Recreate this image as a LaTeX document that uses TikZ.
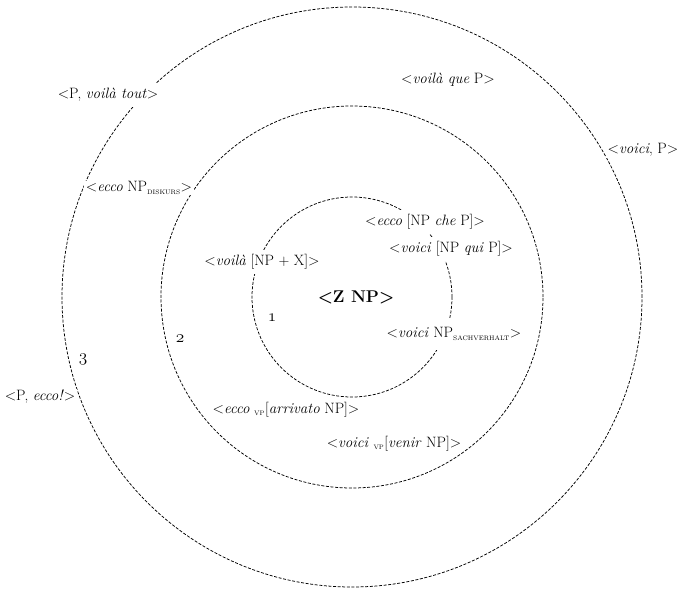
\documentclass[tikz,border=0pt]{standalone}
\usepackage{tikz}

\newcommand{\subsc}[1]{\textsubscript{\fontsize{6.5}{7}\selectfont #1}}

\begin{document}
\begin{tikzpicture}[x=1pt,y=-1pt,
    ring/.style={dash pattern=on 3pt off 1.6pt, line width=0.75pt},
    lab/.style={fill=white, inner xsep=1.5pt, inner ysep=5pt, font=\fontsize{15}{17}\selectfont},
    num/.style={inner sep=1pt, font=\fontsize{17}{18}\selectfont}]
  \useasboundingbox (0,0) rectangle (677,589);
  \coordinate (c) at (352,297);
  \draw [ring] (c) circle [radius=100pt];
  \draw [ring] (c) circle [radius=191pt];
  \draw [ring] (c) circle [radius=290pt];

  % ring 3
  \node [lab] (ptout) at (108,95) {<P, \textit{voilà tout}>};
  \node [lab] (voilaque) at (448,80) {<\textit{voilà que} P>};
  \node [lab, inner ysep=1pt] (voicip) at (643,150) {<\textit{voici}, P>};
  \node [lab, inner ysep=1pt] (pecco) at (40,397) {<P, \textit{ecco!}>};
  \node [num] (three) at (83,359) {$\oldstylenums{3}$};
  % ring 2
  \node [lab, inner ysep=1pt] (diskurs) at (139,188) {<\textit{ecco} NP\subsc{DISKURS}>};
  \node [lab, inner ysep=1pt] (arrivato) at (286,410) {<\textit{ecco} \subsc{VP}[\textit{arrivato} NP]>};
  \node [lab, inner ysep=1pt] (venir) at (394,444) {<\textit{voici} \subsc{VP}[\textit{venir} NP]>};
  \node [num] (two) at (180,339) {$\oldstylenums{2}$};
  % ring 1
  \node [lab] (npx) at (262,262) {<\textit{voilà} [NP + X]>};
  \node [lab] (che) at (425,222) {<\textit{ecco} [NP \textit{che} P]>};
  \node [lab] (qui) at (451,249) {<\textit{voici} [NP \textit{qui} P]>};
  \node [lab, inner ysep=10pt] (sach) at (454,334) {<\textit{voici} NP\subsc{SACHVERHALT}>};
  \node [num] (one) at (272,318) {$\oldstylenums{1}$};
  \node [lab, font=\fontsize{17}{19}\selectfont\bfseries] (znp) at (356,297) {<Z NP>};
\end{tikzpicture}
\end{document}
